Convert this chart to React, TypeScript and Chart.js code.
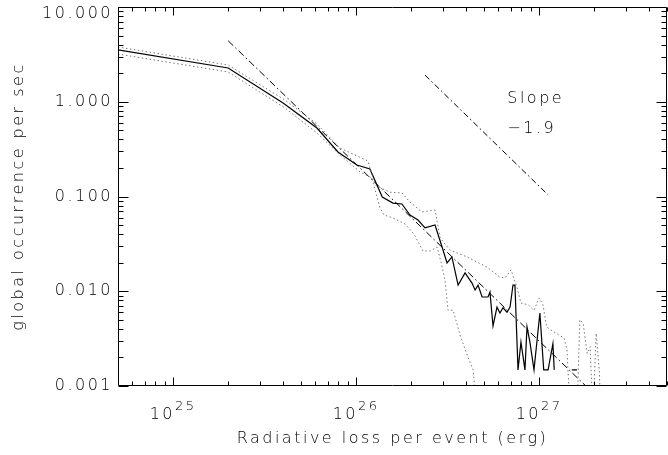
import React, { useEffect, useRef } from "react";
import { Chart, registerables } from "chart.js";

Chart.register(...registerables);

// ---------- axis ranges and tick labels ----------
const xMin = 5e24;
const xMax = 5e27;
const yMin = 0.001;
const yMax = 10;
const yTickValues = [0.001, 0.01, 0.1, 1, 10];
const yTickLabels = ["0.001", "0.010", "0.100", "1.000", "10.000"];
const xTickValues = [1e25, 1e26, 1e27];
const xTickBase = "10";
const xTickExponents = ["25", "26", "27"];
const xTitle = "Radiative loss per event (erg)";
const yTitle = "global occurrence per sec";
const slopeLabel = ["Slope", "\u22121.9"];
const slopeLabelE = 6.7e26;
const slopeLabelV = [0.97, 0.47];

// ---------- series ----------
const solidE = [5.0e24, 2.0e25, 3.99e25, 6.11e25, 7.96e25, 1.01e26, 1.19e26, 1.39e26, 1.59e26, 1.78e26,
  1.97e26, 2.18e26, 2.38e26, 2.70e26, 2.95e26, 3.14e26, 3.34e26, 3.61e26, 3.94e26, 4.30e26,
  4.47e26, 4.64e26, 4.88e26, 5.26e26, 5.39e26, 5.60e26, 5.89e26, 6.11e26, 6.35e26, 6.68e26,
  6.94e26, 7.20e26, 7.38e26, 7.67e26, 7.96e26, 8.37e26, 8.59e26, 8.91e26, 9.38e26, 1.01e27,
  1.06e27, 1.12e27, 1.19e27, 1.21e27, 1.35e27, 1.51e27, 1.61e27];
const solidV = [3.52, 2.27, 0.97, 0.528, 0.295, 0.215, 0.195, 0.0989, 0.0853, 0.0834,
  0.0638, 0.0565, 0.0466, 0.050, 0.0293, 0.0199, 0.0230, 0.0116, 0.0156, 0.0122,
  0.0103, 0.0116, 0.0087, 0.0087, 0.0098, 0.0043, 0.0068, 0.0059, 0.0067, 0.0060,
  0.0068, 0.0116, 0.0116, 0.00148, 0.0029, 0.00148, 0.0042, 0.0029, 0.00148, 0.0059,
  0.00148, 0.00148, 0.0028, 0.00148, null, 0.00148, 0.00148];

const upperE = [5.0e24, 2.0e25, 4.09e25, 6.11e25, 8.17e25, 1.16e26, 1.27e26, 1.53e26, 1.78e26, 1.97e26,
  2.29e26, 2.70e26, 2.88e26, 3.26e26, 4.04e26, 5.19e26, 6.11e26, 6.51e26, 7.03e26, 7.59e26,
  7.96e26, 8.71e26, 9.38e26, 1.00e27, 1.05e27, 1.10e27, 1.16e27, 1.27e27, 1.37e27, 1.42e27,
  1.48e27, 1.61e27, 1.67e27, 1.74e27, 1.83e27, 1.90e27, 1.97e27, 2.05e27, 2.13e27, 2.18e27];
const upperV = [3.78, 2.44, 1.04, 0.582, 0.325, 0.237, 0.132, 0.111, 0.109, 0.0875,
  0.0686, 0.0721, 0.0365, 0.0272, 0.0230, 0.0180, 0.0141, 0.0138, 0.0168, 0.0108,
  0.0075, 0.0072, 0.0063, 0.0085, 0.0072, 0.0042, 0.0039, 0.0035, 0.0032, 0.0024,
  0.0005, 0.0005, 0.0050, 0.0046, 0.0022, 0.0026, 0.0005, 0.0036, 0.0015, 0.0005];

const lowerE = [5.0e24, 2.0e25, 4.09e25, 6.11e25, 8.17e25, 1.05e26, 1.22e26, 1.35e26, 1.42e26, 1.59e26,
  1.85e26, 2.07e26, 2.32e26, 2.54e26, 2.77e26, 2.91e26, 3.06e26, 3.18e26, 3.39e26, 3.70e26,
  4.09e26, 4.36e26, 4.58e26];
const lowerV = [3.19, 2.06, 0.859, 0.468, 0.274, 0.182, 0.157, 0.0757, 0.0638, 0.0593,
  0.0513, 0.0402, 0.0266, 0.0266, 0.0293, 0.0204, 0.0132, 0.0063, 0.0063, 0.00345,
  0.0020, 0.00148, 0.0005];

const fitE = [2.0e25, 1.8e27];
const fitV = [4.4, 0.001];

const slopeE = [2.38e26, 1.12e27];
const slopeV = [1.91, 0.104];

// ---------- styling ----------
const FAMILY = '"DejaVu Sans", sans-serif';
const FONT_SIZE = 16;
const WEIGHT = 200;
const SPACING = "2.5px";

const pts = (xs: number[], ys: (number | null)[]) => xs.map((x, i) => ({ x, y: ys[i] }));

const framePlugin = {
  id: "frame",
  beforeUpdate(chart: any) {
    chart.ctx.letterSpacing = SPACING;
  },
  beforeDraw(chart: any) {
    chart.ctx.letterSpacing = SPACING;
    // keep the top y label inside the frame, as in the original
    const ys = chart.scales.y;
    const items = ys.getLabelItems(chart.chartArea);
    items.forEach((it: any) => {
      if (it.label === yTickLabels[yTickLabels.length - 1] && !it._shifted) {
        it.options.translation = [it.options.translation[0], it.options.translation[1] + 7];
        it._shifted = true;
      }
    });
  },
  afterDraw(chart: any) {
    const { ctx, chartArea: a } = chart;
    const xs = chart.scales.x;
    const ys = chart.scales.y;
    ctx.save();
    ctx.letterSpacing = SPACING;
    ctx.strokeStyle = "#000";
    ctx.lineWidth = 1;
    ctx.setLineDash([]);
    const L = Math.round(a.left) + 0.5;
    const R = Math.round(a.right) - 0.5;
    const T = Math.round(a.top) + 0.5;
    const B = Math.round(a.bottom) - 0.5;
    ctx.beginPath();
    ctx.rect(L, T, R - L, B - T);
    for (let d = 24; d <= 27; d++) {
      for (let m = 1; m <= 9; m++) {
        const v = m * Math.pow(10, d);
        if (v < xMin || v > xMax) continue;
        const p = Math.round(xs.getPixelForValue(v)) + 0.5;
        const len = m === 1 ? 8 : 4;
        ctx.moveTo(p, B);
        ctx.lineTo(p, B - len);
        ctx.moveTo(p, T);
        ctx.lineTo(p, T + len);
      }
    }
    for (let d = -3; d <= 1; d++) {
      for (let m = 1; m <= 9; m++) {
        const v = m * Math.pow(10, d);
        if (v < yMin * 0.999 || v > yMax * 1.001) continue;
        const p = Math.round(ys.getPixelForValue(v)) + 0.5;
        const len = m === 1 ? 10 : 5;
        ctx.moveTo(L, p);
        ctx.lineTo(L + len, p);
        ctx.moveTo(R, p);
        ctx.lineTo(R - len, p);
      }
    }
    ctx.stroke();

    ctx.fillStyle = "#000";
    ctx.textBaseline = "alphabetic";
    ctx.textAlign = "left";
    xTickValues.forEach((v, i) => {
      const p = xs.getPixelForValue(v);
      ctx.font = `${WEIGHT} ${FONT_SIZE}px ${FAMILY}`;
      const w1 = ctx.measureText(xTickBase).width;
      ctx.font = `${WEIGHT} 13px ${FAMILY}`;
      const w2 = ctx.measureText(xTickExponents[i]).width;
      const s = p - (w1 + w2) / 2;
      ctx.font = `${WEIGHT} ${FONT_SIZE}px ${FAMILY}`;
      ctx.fillText(xTickBase, s, a.bottom + 33);
      ctx.font = `${WEIGHT} 13px ${FAMILY}`;
      ctx.fillText(xTickExponents[i], s + w1, a.bottom + 24);
    });

    ctx.font = `${WEIGHT} ${FONT_SIZE}px ${FAMILY}`;
    slopeLabel.forEach((t, i) => {
      ctx.fillText(t, xs.getPixelForValue(slopeLabelE), ys.getPixelForValue(slopeLabelV[i]));
    });
    ctx.restore();
  },
};

export default function App() {
  const ref = useRef<HTMLCanvasElement | null>(null);

  useEffect(() => {
    document.body.style.margin = "0";
    const canvas = ref.current;
    if (!canvas) return;
    Chart.defaults.font.family = FAMILY;
    Chart.defaults.font.size = FONT_SIZE;
    Chart.defaults.color = "#000";
    const font = { family: FAMILY, size: FONT_SIZE, weight: WEIGHT };

    const chart = new Chart(canvas, {
      type: "scatter",
      data: {
        datasets: [
          {
            label: "upper",
            data: pts(upperE, upperV),
            showLine: true,
            borderColor: "#777",
            borderWidth: 1,
            borderDash: [1.5, 2.5],
            pointRadius: 0,
            tension: 0,
          },
          {
            label: "lower",
            data: pts(lowerE, lowerV),
            showLine: true,
            borderColor: "#777",
            borderWidth: 1,
            borderDash: [1.5, 2.5],
            pointRadius: 0,
            tension: 0,
          },
          {
            label: "occurrence",
            data: pts(solidE, solidV),
            showLine: true,
            borderColor: "#000",
            borderWidth: 1.2,
            pointRadius: 0,
            tension: 0,
            spanGaps: false,
          },
          {
            label: "fit",
            data: pts(fitE, fitV),
            showLine: true,
            borderColor: "#000",
            borderWidth: 1,
            borderDash: [7, 3, 1.5, 3],
            pointRadius: 0,
          },
          {
            label: "slope",
            data: pts(slopeE, slopeV),
            showLine: true,
            borderColor: "#000",
            borderWidth: 1,
            borderDash: [6, 3, 1.5, 3],
            pointRadius: 0,
          },
        ],
      },
      options: {
        animation: false,
        responsive: false,
        maintainAspectRatio: false,
        devicePixelRatio: 1,
        layout: { padding: { top: 7, right: 1, left: 0, bottom: 0 } },
        plugins: {
          legend: { display: false },
          tooltip: { enabled: false },
        },
        scales: {
          x: {
            type: "logarithmic",
            position: "bottom",
            min: xMin,
            max: xMax,
            grid: { display: false, drawTicks: false },
            border: { display: false },
            ticks: { display: false },
            title: {
              display: true,
              text: xTitle,
              font,
              color: "#000",
              padding: { top: 0, bottom: 7 },
            },
            afterFit(scale: any) {
              scale.height = 69;
              scale.paddingLeft = 0;
              scale.paddingRight = 0;
            },
          },
          y: {
            type: "logarithmic",
            position: "left",
            min: yMin,
            max: yMax,
            grid: { display: false, drawTicks: false },
            border: { display: false },
            afterBuildTicks(scale: any) {
              scale.ticks = yTickValues.map((v) => ({ value: v }));
            },
            ticks: {
              padding: 5,
              font,
              color: "#000",
              callback: (_v: any, i: number) => yTickLabels[i],
            },
            title: {
              display: true,
              text: yTitle,
              font,
              color: "#000",
              padding: { top: 9, bottom: 0 },
            },
            afterFit(scale: any) {
              scale.width = 118;
              scale.paddingTop = 0;
              scale.paddingBottom = 0;
            },
          },
        },
      },
      plugins: [framePlugin],
    } as any);

    return () => chart.destroy();
  }, []);

  return <canvas ref={ref} width={668} height={455} style={{ display: "block" }} />;
}
